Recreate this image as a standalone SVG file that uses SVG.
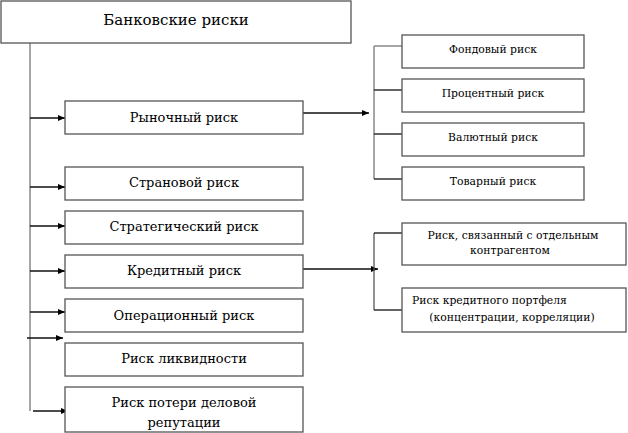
<svg xmlns="http://www.w3.org/2000/svg" width="628" height="433" viewBox="0 0 628 433">
<style>
.box{fill:#fff;stroke:#555;stroke-width:1.3}
text{font-family:"DejaVu Serif","Liberation Serif",serif;fill:#000;text-anchor:middle}
.m{font-size:13px}
.s{font-size:10.8px}
.ln{stroke:#111;stroke-width:1.3;fill:none}
.gl{stroke:#888;stroke-width:1.5;fill:none}
</style>
<defs>
<marker id="ah" markerWidth="8" markerHeight="8" refX="7" refY="4" orient="auto" markerUnits="userSpaceOnUse">
<path d="M0,1 L7,4 L0,7 Z" fill="#000"/>
</marker>
</defs>
<g id="connectors">
<line class="gl" x1="30" y1="43" x2="30" y2="411"/>
<line class="ln" x1="30" y1="118" x2="65" y2="118" marker-end="url(#ah)"/>
<line class="ln" x1="30" y1="187" x2="65" y2="187" marker-end="url(#ah)"/>
<line class="ln" x1="30" y1="226" x2="65" y2="226" marker-end="url(#ah)"/>
<line class="ln" x1="30" y1="271" x2="65" y2="271" marker-end="url(#ah)"/>
<line class="ln" x1="30" y1="312" x2="65" y2="312" marker-end="url(#ah)"/>
<line class="ln" x1="27" y1="338" x2="63" y2="338" marker-end="url(#ah)"/>
<line class="ln" x1="33" y1="411" x2="68" y2="411" marker-end="url(#ah)"/>
<line class="ln" x1="303" y1="113" x2="369" y2="113" marker-end="url(#ah)"/>
<line class="gl" x1="374" y1="46" x2="374" y2="179"/>
<line class="gl" x1="374" y1="46" x2="402" y2="46"/>
<line class="ln" x1="374" y1="90" x2="402" y2="90"/>
<line class="ln" x1="374" y1="134" x2="402" y2="134"/>
<line class="ln" x1="374" y1="179" x2="402" y2="179"/>
<line class="ln" x1="303" y1="269" x2="378" y2="269" marker-end="url(#ah)"/>
<line class="ln" x1="374" y1="233" x2="374" y2="310" style="stroke:#555"/>
<line class="ln" x1="374" y1="233" x2="402" y2="233"/>
<line class="ln" x1="374" y1="310" x2="402" y2="310"/>
</g>
<g id="root"><rect class="box" x="1" y="1" width="350" height="42"/><text x="176" y="25" font-size="15">Банковские риски</text></g>
<g id="market"><rect class="box" x="65" y="101" width="238" height="33"/><text class="m" x="184" y="122">Рыночный риск</text></g>
<g id="country"><rect class="box" x="65" y="167" width="238" height="33"/><text class="m" x="184" y="187">Страновой риск</text></g>
<g id="strategic"><rect class="box" x="65" y="211" width="238" height="33"/><text class="m" x="184" y="231">Стратегический риск</text></g>
<g id="credit"><rect class="box" x="65" y="255" width="238" height="33"/><text class="m" x="184" y="275">Кредитный риск</text></g>
<g id="operational"><rect class="box" x="65" y="299" width="238" height="33"/><text class="m" x="184" y="320">Операционный риск</text></g>
<g id="liquidity"><rect class="box" x="65" y="343" width="238" height="33"/><text class="m" x="184" y="363">Риск ликвидности</text></g>
<g id="reputation"><rect class="box" x="65" y="387" width="238" height="45"/><text class="m" x="184" y="407">Риск потери деловой</text><text class="m" x="184" y="427">репутации</text></g>
<g id="stock"><rect class="box" x="402" y="35" width="182" height="33"/><text class="s" x="493" y="53">Фондовый риск</text></g>
<g id="interest"><rect class="box" x="402" y="79" width="182" height="33"/><text class="s" x="493" y="97">Процентный риск</text></g>
<g id="currency"><rect class="box" x="402" y="123" width="182" height="33"/><text class="s" x="493" y="141">Валютный риск</text></g>
<g id="commodity"><rect class="box" x="402" y="167" width="182" height="33"/><text class="s" x="493" y="185">Товарный риск</text></g>
<g id="counterparty"><rect class="box" x="402" y="223" width="224" height="42"/><text class="s" x="513" y="239">Риск, связанный с отдельным</text><text class="s" x="510" y="254">контрагентом</text></g>
<g id="portfolio"><rect class="box" x="402" y="288" width="224" height="44"/><text class="s" x="412" y="304" style="text-anchor:start">Риск кредитного портфеля</text><text class="s" x="512" y="321">(концентрации, корреляции)</text></g>
</svg>
